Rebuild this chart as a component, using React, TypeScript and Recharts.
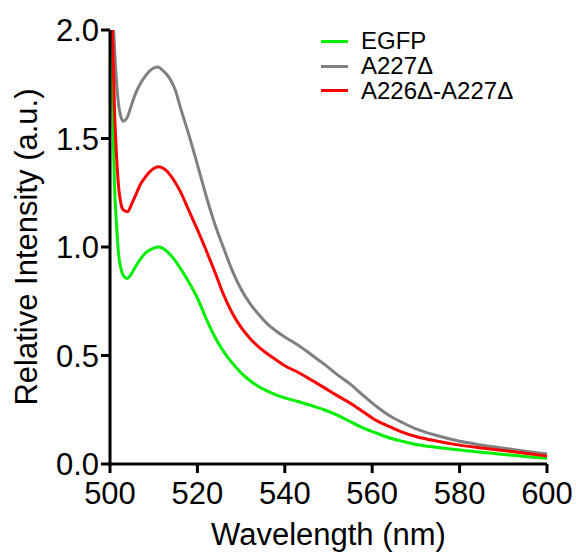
import { LineChart, Line, XAxis, YAxis } from "recharts";

const wavelength = [
  500, 500.5, 501, 501.5, 502, 502.5, 503, 504, 505, 506, 507, 508, 509, 510, 511, 512, 513, 514, 515, 516,
  518, 520, 522, 524, 526, 528, 530, 532, 534, 536, 538, 540,
  543, 546, 549, 552, 555, 558, 561, 564, 567, 570,
  575, 580, 585, 590, 595, 600,
];

const egfp = [
  2.5, 1.75, 1.3, 1.1, 0.96, 0.9, 0.87, 0.855, 0.88, 0.915, 0.945, 0.97, 0.985, 0.995, 1.0, 0.995, 0.98, 0.96, 0.935, 0.905,
  0.84, 0.765, 0.67, 0.585, 0.518, 0.465, 0.42, 0.385, 0.357, 0.336, 0.319, 0.305,
  0.288, 0.27, 0.25, 0.225, 0.195, 0.165, 0.142, 0.12, 0.104, 0.09,
  0.076, 0.064, 0.054, 0.044, 0.035, 0.026,
];

const a227 = [
  2.9, 2.2, 1.93, 1.76, 1.65, 1.6, 1.58, 1.6, 1.66, 1.715, 1.755, 1.785, 1.81, 1.825, 1.83, 1.815, 1.795, 1.765, 1.72, 1.65,
  1.52, 1.38, 1.235, 1.105, 0.995, 0.89, 0.805, 0.74, 0.69, 0.646, 0.613, 0.585,
  0.548, 0.505, 0.46, 0.412, 0.368, 0.315, 0.265, 0.222, 0.19, 0.162,
  0.13, 0.105, 0.088, 0.073, 0.059, 0.046,
];

const a226a227 = [
  2.7, 2.05, 1.65, 1.42, 1.27, 1.2, 1.172, 1.163, 1.2, 1.245, 1.29, 1.32, 1.345, 1.362, 1.37, 1.365, 1.35, 1.325, 1.295, 1.26,
  1.17, 1.08, 0.985, 0.885, 0.78, 0.695, 0.63, 0.58, 0.54, 0.508, 0.48, 0.453,
  0.423, 0.388, 0.352, 0.315, 0.28, 0.24, 0.2, 0.172, 0.146, 0.127,
  0.105, 0.087, 0.074, 0.062, 0.05, 0.037,
];

const xTicks = [500, 520, 540, 560, 580, 600];
const yTicks = [0, 0.5, 1.0, 1.5, 2.0];

const series = [
  { key: "egfp", name: "EGFP", color: "#00ee00" },
  { key: "a227", name: "A227Δ", color: "#808080" },
  { key: "a226", name: "A226Δ-A227Δ", color: "#ff0000" },
];

const data = wavelength.map((wl, i) => ({
  wl,
  egfp: egfp[i],
  a227: a227[i],
  a226: a226a227[i],
}));

const FONT = '"Liberation Sans", Arial, Helvetica, sans-serif';

// legend sits over the plot, kept outside recharts so it doesn't eat plot space
const LegendBox = () => (
  <div
    style={{
      position: "absolute",
      left: 321,
      top: 29,
      fontFamily: FONT,
      fontSize: 24,
      color: "#000",
    }}
  >
    {series.map((s) => (
      <div key={s.key} style={{ display: "flex", alignItems: "center", height: 24.7 }}>
        <div style={{ width: 27, height: 3, background: s.color, marginRight: 13 }} />
        <span style={{ lineHeight: "22px" }}>{s.name}</span>
      </div>
    ))}
  </div>
);

export default function App() {
  return (
    <div style={{ position: "fixed", left: 0, top: 0, width: 576, height: 552, background: "#fff" }}>
      <LineChart
        width={576}
        height={552}
        data={data}
        margin={{ top: 30, right: 29, left: 0, bottom: 0 }}
      >
        <XAxis
          dataKey="wl"
          type="number"
          domain={[500, 600]}
          ticks={xTicks}
          height={88}
          axisLine={{ stroke: "#000", strokeWidth: 3 }}
          tickLine={{ stroke: "#000", strokeWidth: 3 }}
          tickSize={9}
          tickMargin={9}
          tick={{ fill: "#000", fontSize: 31, fontFamily: FONT }}
          label={{
            content: ({ viewBox }: any) => (
              <text
                x={viewBox.x + viewBox.width / 2}
                y={viewBox.y + 81}
                textAnchor="middle"
                fill="#000"
                fontSize={31}
                fontFamily={FONT}
              >
                Wavelength (nm)
              </text>
            ),
          }}
        />
        <YAxis
          type="number"
          domain={[0, 2]}
          allowDataOverflow
          ticks={yTicks}
          width={110}
          tickFormatter={(v: number) => v.toFixed(1)}
          axisLine={{ stroke: "#000", strokeWidth: 3 }}
          tickLine={{ stroke: "#000", strokeWidth: 3 }}
          tickSize={9}
          tickMargin={2}
          tick={{ fill: "#000", fontSize: 31, fontFamily: FONT }}
          label={{
            content: ({ viewBox }: any) => {
              const x = viewBox.x + 37;
              const y = viewBox.y + viewBox.height / 2;
              return (
                <text
                  x={x}
                  y={y}
                  transform={`rotate(-90, ${x}, ${y})`}
                  textAnchor="middle"
                  fill="#000"
                  fontSize={31}
                  fontFamily={FONT}
                >
                  Relative Intensity (a.u.)
                </text>
              );
            },
          }}
        />
        {series.map((s) => (
          <Line
            key={s.key}
            type="monotone"
            dataKey={s.key}
            name={s.name}
            stroke={s.color}
            strokeWidth={3}
            dot={false}
            isAnimationActive={false}
          />
        ))}
      </LineChart>
      <LegendBox />
    </div>
  );
}
